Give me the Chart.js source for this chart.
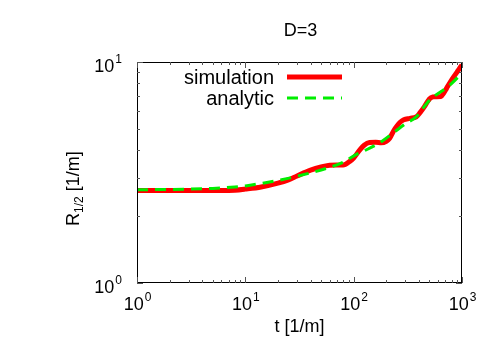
<!DOCTYPE html>
<html lang="en">
<head>
    <meta charset="UTF-8">
    <title>D=3 - R1/2 vs t</title>
    <script src="https://cdn.jsdelivr.net/npm/chart.js"></script>
    <style>
        body {
            margin: 0;
            background: white;
        }

        #chartContainer {
            width: 500px;
            height: 350px;
        }
    </style>
</head>
<body>

<div id="chartContainer">
    <canvas id="radiusChart" width="500" height="350"></canvas>
</div>

<script>
    // simulation curve
    const tSim = [1, 3, 6, 8, 10, 14, 20, 25, 30, 40, 50, 60, 70, 80, 92, 100, 113, 125, 140, 160, 180, 200, 215, 235, 250, 270, 290, 330, 378, 410, 450, 500, 540, 580, 640, 680, 720, 820, 900, 950, 1000];
    const rSim = [2.62, 2.62, 2.62, 2.63, 2.66, 2.72, 2.83, 2.93, 3.05, 3.24, 3.35, 3.41, 3.42, 3.42, 3.55, 3.68, 3.98, 4.2, 4.32, 4.33, 4.31, 4.38, 4.52, 4.9, 5.12, 5.35, 5.48, 5.56, 5.65, 5.9, 6.28, 6.8, 6.95, 6.97, 6.98, 7.25, 7.6, 8.44, 9.0, 9.36, 9.7];

    // analytic curve
    const tAna = [1, 3, 5, 8, 10, 14.5, 20, 26, 39, 56, 80, 106, 126, 180, 240, 306, 378, 500, 770, 1000];
    const rAna = [2.64, 2.66, 2.68, 2.72, 2.75, 2.83, 2.91, 2.99, 3.14, 3.30, 3.52, 3.82, 3.97, 4.36, 4.84, 5.28, 5.65, 6.7, 7.85, 8.9];

    const xMajor = [1, 10, 100, 1000];
    const xExp = ['0', '1', '2', '3'];
    const yMajor = [1, 10];
    const yExp = ['0', '1'];
    const mantissas = [2, 3, 4, 5, 6, 7, 8, 9];

    const seriesNames = ['simulation', 'analytic'];
    const FONT = '"Liberation Sans", Arial, sans-serif';

    function pts(xs, ys) {
        return xs.map((x, i) => ({ x: x, y: ys[i] }));
    }

    // frame, inside ticks, labels and the key, gnuplot style
    const gnuplotDecor = {
        id: 'gnuplotDecor',
        afterDraw(chart) {
            const ctx = chart.ctx;
            const a = chart.chartArea;
            const xs = chart.scales.x;
            const ys = chart.scales.y;
            ctx.save();

            // frame
            ctx.strokeStyle = '#000';
            ctx.lineWidth = 1;
            ctx.strokeRect(a.left + 0.5, a.top + 0.5, a.right - a.left - 1, a.bottom - a.top - 1);

            // ticks
            ctx.beginPath();
            const tickX = (v, len) => {
                const px = Math.round(xs.getPixelForValue(v)) + 0.5;
                ctx.moveTo(px, a.bottom); ctx.lineTo(px, a.bottom - len);
                ctx.moveTo(px, a.top); ctx.lineTo(px, a.top + len);
            };
            const tickY = (v, len) => {
                const py = Math.round(ys.getPixelForValue(v)) + 0.5;
                ctx.moveTo(a.left, py); ctx.lineTo(a.left + len, py);
                ctx.moveTo(a.right, py); ctx.lineTo(a.right - len, py);
            };
            xMajor.forEach(v => tickX(v, 6));
            xMajor.slice(0, -1).forEach(d => mantissas.forEach(m => tickX(d * m, 3)));
            yMajor.forEach(v => tickY(v, 6));
            yMajor.slice(0, -1).forEach(d => mantissas.forEach(m => tickY(d * m, 3)));
            ctx.strokeStyle = '#555';
            ctx.stroke();

            ctx.fillStyle = '#000';
            const big = '18px ' + FONT;
            const small = '12px ' + FONT;

            // x tick labels: 10 with superscript
            ctx.textBaseline = 'alphabetic';
            xMajor.forEach((v, i) => {
                ctx.font = big;
                const w1 = ctx.measureText('10').width;
                ctx.font = small;
                const w2 = ctx.measureText(xExp[i]).width;
                const x0 = xs.getPixelForValue(v) - (w1 + w2) / 2;
                ctx.font = big;
                ctx.textAlign = 'left';
                ctx.fillText('10', x0, 310);
                ctx.font = small;
                ctx.fillText(xExp[i], x0 + w1 + 1, 301);
            });

            // y tick labels
            yMajor.forEach((v, i) => {
                const py = ys.getPixelForValue(v);
                ctx.font = small;
                const w2 = ctx.measureText(yExp[i]).width;
                ctx.textAlign = 'right';
                ctx.fillText(yExp[i], 122, py + 1);
                ctx.font = big;
                ctx.fillText('10', 121 - w2, py + 10);
            });

            // title
            ctx.font = big;
            ctx.textAlign = 'center';
            ctx.fillText('D=3', (a.left + a.right) / 2 + 1, 36);

            // x axis title
            ctx.fillText('t [1/m]', (a.left + a.right) / 2, 332);

            // y axis title, rotated, with subscript
            ctx.save();
            ctx.translate(79, 226);
            ctx.rotate(-Math.PI / 2);
            ctx.textAlign = 'left';
            ctx.font = big;
            ctx.fillText('R', 0, 0);
            let off = ctx.measureText('R').width;
            ctx.font = small;
            ctx.fillText('1/2', off, 4);
            off += ctx.measureText('1/2').width;
            ctx.font = big;
            ctx.fillText(' [1/m]', off, 0);
            ctx.restore();

            // key
            const rows = [77, 98];
            chart.data.datasets.forEach((ds, i) => {
                ctx.font = '20px ' + FONT;
                ctx.textAlign = 'right';
                ctx.textBaseline = 'middle';
                ctx.fillStyle = '#000';
                ctx.fillText(seriesNames[i], 274, rows[i] + 1);
                ctx.beginPath();
                ctx.strokeStyle = ds.borderColor;
                ctx.lineWidth = ds.borderWidth;
                ctx.setLineDash(ds.borderDash || []);
                ctx.moveTo(287, rows[i]);
                ctx.lineTo(342, rows[i]);
                ctx.stroke();
                ctx.setLineDash([]);
            });

            ctx.restore();
        }
    };

    const ctx = document.getElementById('radiusChart').getContext('2d');
    const chart = new Chart(ctx, {
        type: 'line',
        data: {
            datasets: [{
                label: seriesNames[0],
                data: pts(tSim, rSim),
                borderColor: '#ff0000',
                borderWidth: 5,
                pointRadius: 0,
                cubicInterpolationMode: 'monotone',
                fill: false,
                order: 1
            }, {
                label: seriesNames[1],
                data: pts(tAna, rAna),
                borderColor: '#00ee00',
                borderWidth: 3,
                borderDash: [11, 7],
                pointRadius: 0,
                cubicInterpolationMode: 'monotone',
                fill: false,
                order: 0
            }]
        },
        options: {
            responsive: false,
            animation: false,
            layout: {
                padding: { left: 137, right: 38, top: 62, bottom: 67 }
            },
            plugins: {
                legend: { display: false },
                title: { display: false },
                tooltip: { enabled: false }
            },
            scales: {
                x: { type: 'logarithmic', min: 1, max: 1000, display: false },
                y: { type: 'logarithmic', min: 1, max: 10, display: false }
            }
        },
        plugins: [gnuplotDecor]
    });
</script>

</body>
</html>
